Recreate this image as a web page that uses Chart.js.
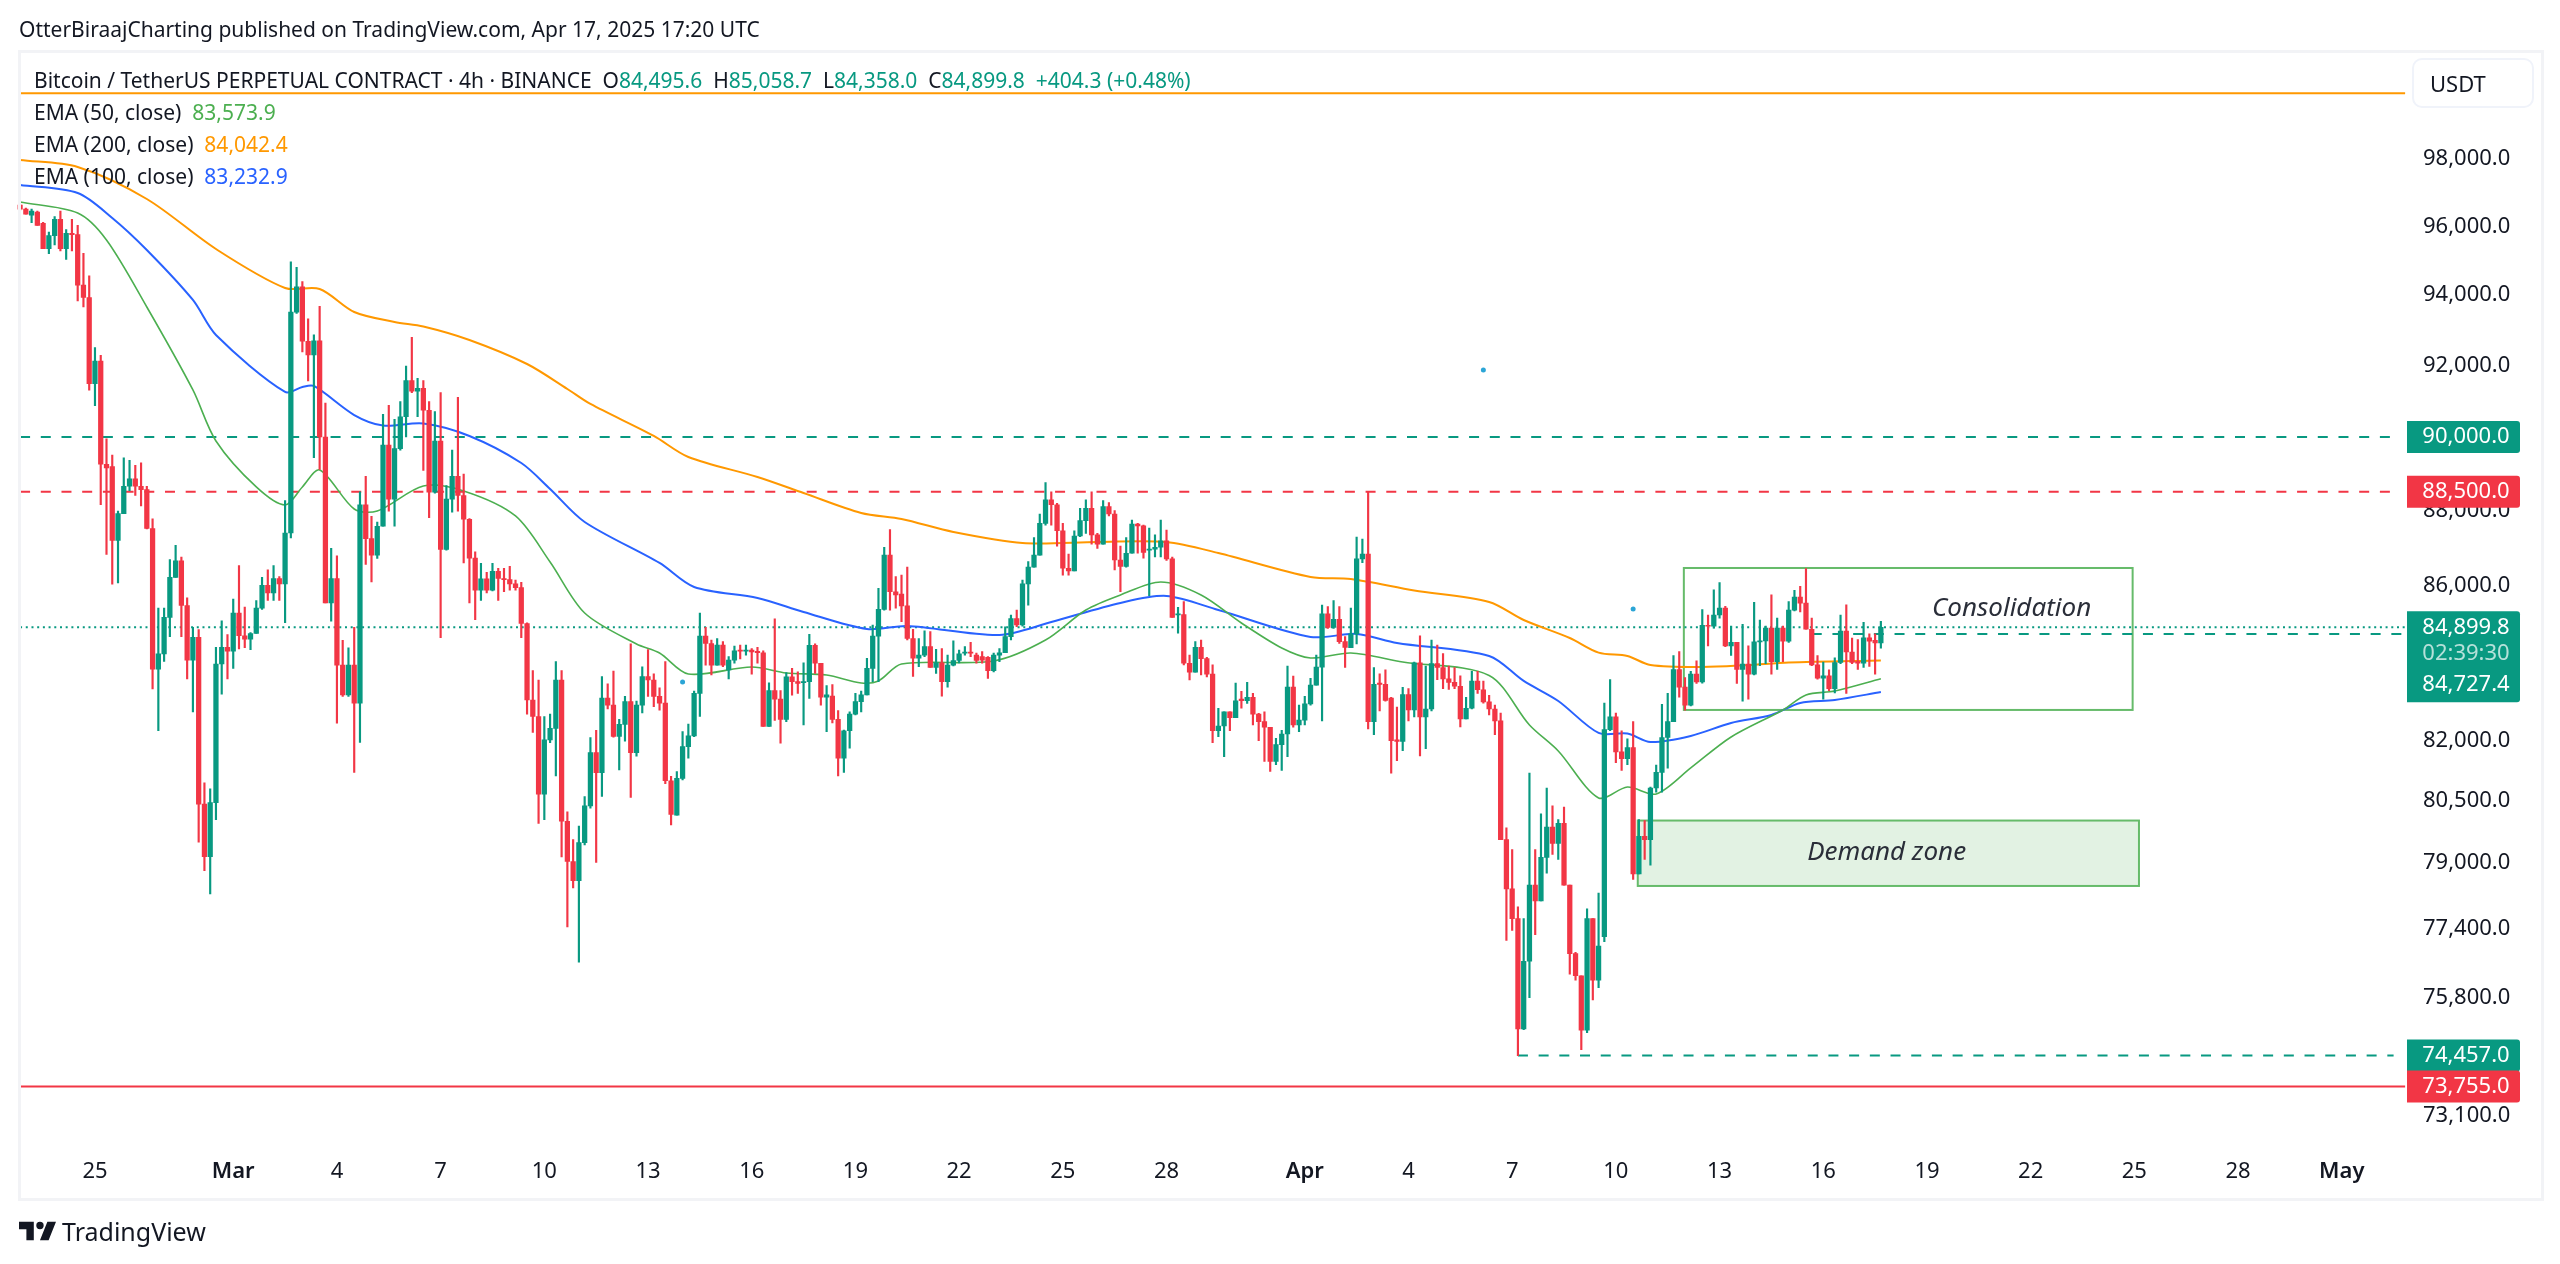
<!DOCTYPE html>
<html>
<head>
<meta charset="utf-8">
<title>BTCUSDT 4h</title>
<script src="https://cdn.jsdelivr.net/npm/chart.js@4/dist/chart.umd.min.js"></script>
<style>
    html, body { margin: 0; padding: 0; background: #fff; }
    body { width: 2560px; height: 1264px; position: relative; overflow: hidden; font-family: 'Noto Sans', sans-serif; color: #131722; }
    #priceChart { position: absolute; left: 0; top: 0; }
    .frame { position: absolute; left: 18px; top: 50px; width: 2520px; height: 1145px; border: 3px solid #f2f3f6; pointer-events: none; }
    .line { position: absolute; white-space: pre; font-size: 21px; line-height: 30px; }
    .up { color: #089981; }
    .usdt { position: absolute; left: 2412px; top: 58px; width: 118px; height: 46px; border: 2px solid #f0f3fa; border-radius: 10px; font-size: 22px; line-height: 46px; text-indent: 16px; }
    .logo { position: absolute; left: 19px; top: 1219px; }
    .brand { position: absolute; left: 62px; top: 1214px; font-size: 25px; line-height: 34px; }
</style>
</head>
<body>
<canvas id="priceChart" width="2560" height="1264"></canvas>
<div class="frame"></div>
<div class="line" style="left:19px;top:14px">OtterBiraajCharting published on TradingView.com, Apr 17, 2025 17:20 UTC</div>
<div class="line" style="left:34px;top:65px">Bitcoin / TetherUS PERPETUAL CONTRACT · 4h · BINANCE  O<span class="up">84,495.6</span>  H<span class="up">85,058.7</span>  L<span class="up">84,358.0</span>  C<span class="up">84,899.8</span>  <span class="up">+404.3 (+0.48%)</span></div>
<div class="line" style="left:34px;top:97px">EMA (50, close)  <span style="color:#4caf50">83,573.9</span></div>
<div class="line" style="left:34px;top:129px">EMA (200, close)  <span style="color:#ff9800">84,042.4</span></div>
<div class="line" style="left:34px;top:161px">EMA (100, close)  <span style="color:#2962ff">83,232.9</span></div>
<div class="usdt">USDT</div>
<svg class="logo" width="37" height="24" viewBox="2 6 30 15"><path fill="#131722" d="M14 6H2v6h6v9h6V6zm12 15h-7l6-15h7l-6 15zm-7-9a3 3 0 1 0 0-6 3 3 0 0 0 0 6z"/></svg>
<div class="brand">TradingView</div>

<script>
// Price axis
const priceMin = 72333;
const priceMax = 101302;
const priceTicks = [98000, 96000, 94000, 92000, 90000, 88000, 86000, 84000, 82000, 80500, 79000, 77400, 75800, 73100];

// Time axis (one slot = 4h, slot 0 is Feb 22 20:00, runs on past the last candle)
const slotCount = 415;
const timeTickSlots = [13, 37, 55, 73, 91, 109, 127, 145, 163, 181, 199, 223, 241, 259, 277, 295, 313, 331, 349, 367, 385, 403];
const timeTickLabels = ['25', 'Mar', '4', '7', '10', '13', '16', '19', '22', '25', '28', 'Apr', '4', '7', '10', '13', '16', '19', '22', '25', '28', 'May'];
const monthLabels = ['Mar', 'Apr', 'May'];

// Candles
const candleOpen = [
    96630,96510,96330,96420,96090,95350,95730,96210,95350,95800,
    95760,94290,93930,91480,92120,89250,89190,87190,87910,88650,
    88850,88650,88560,87510,83820,84210,85160,86210,86650,85470,
    84050,84640,80420,79140,80460,83950,84380,84280,85270,84680,
    84590,84740,85400,86000,85800,86180,86040,87390,93510,94240,
    92680,92290,92690,90000,85540,86180,83920,83160,83920,82950,
    88150,87240,86800,87570,89780,88300,89680,90560,91570,91270,
    91350,90740,88490,89890,86950,88300,88920,88400,87760,86720,
    85870,86170,85870,86370,86180,86150,86040,85940,85000,83030,
    82610,80670,82020,82310,83540,80000,79020,78560,79480,80380,
    81700,81200,83080,82900,82110,82410,82990,81700,82900,83630,
    83540,83120,82950,81000,80150,81060,81850,82120,83200,84670,
    84480,83920,84440,83800,84050,84310,84280,84310,84280,84240,
    82360,83270,83050,82540,83620,83500,83470,83500,84430,83970,
    83100,83130,82540,81560,82250,82670,82990,83160,83840,84670,
    85370,86800,85830,85770,85460,84610,84100,84180,84400,83860,
    83980,83500,83920,84040,84230,84260,84180,84140,84120,83780,
    84180,84240,84660,85130,84960,86040,86480,86800,87650,88280,
    88150,87450,86450,86380,87310,87720,88050,87340,87090,88100,
    87900,86670,86500,86850,87630,87580,86930,86960,87010,87180,
    86700,85220,85230,83970,83740,84380,84090,83690,82250,82370,
    82730,82580,83050,83010,83100,82670,82480,82340,81480,81900,
    82170,83360,82400,82520,82930,83410,83870,85250,84900,85110,
    84530,84370,84730,86700,86830,82480,83460,83430,83080,82020,
    81980,83170,82780,83980,82600,82800,83960,83860,83570,83480,
    83380,82550,82820,83510,83290,82980,82800,82500,79550,78360,
    77650,75070,76640,78450,78070,79120,79860,79460,79950,78450,
    76820,76300,75040,77650,76200,77220,82280,82600,81720,81550,
    81830,78720,79630,79550,80820,81210,82080,82480,83810,83360,
    82900,83690,83490,84950,84930,85220,85400,84420,84510,83810,
    83950,83690,84520,84550,84880,84010,84880,84540,85350,85690,
    85530,84850,83930,83590,83650,83320,83990,84800,84260,84010,
    83970,84630,84560,84495.6
];
const candleHigh = [
    96660,96540,96510,96450,96120,95830,96290,96450,95910,96210,
    96030,95210,94560,92500,92280,89950,89500,87980,89430,89360,
    89220,89290,88650,87770,85400,85400,86680,87060,86750,85670,
    84900,84840,80950,80800,84380,85070,84710,85640,86520,85430,
    84760,85600,86210,86410,86520,86230,88260,94960,94800,94390,
    93320,92860,93680,90940,86980,86780,84560,84370,84900,88500,
    88920,87840,87680,90630,90880,90490,90980,91980,92790,91630,
    91570,90980,90700,91230,88670,89640,91100,88980,87780,86890,
    86580,86340,86580,86450,86450,86500,86140,86080,85020,83780,
    83540,82610,82670,84010,83780,80230,79550,79880,80610,82080,
    82260,83630,83440,83770,82540,83120,84470,83000,83880,84320,
    83700,83340,84010,81110,81230,82230,82420,83260,85270,84900,
    84570,84610,84530,84140,84410,84440,84440,84350,84380,84290,
    83470,85120,83270,83730,83840,83750,83980,84720,84470,83970,
    83400,83420,82760,82270,82730,83200,83260,84100,84960,85920,
    87010,87480,86230,86270,86480,84850,84610,84810,84790,84330,
    84350,84180,84550,84310,84400,84510,84230,84270,84140,84230,
    84350,84910,85220,85350,86140,86630,87270,87900,88750,88500,
    88190,87650,86830,87450,88050,88280,88500,87380,88260,88210,
    87990,87040,87270,87740,87650,87600,87520,87340,87740,87470,
    86750,85420,85570,84180,84530,84570,84120,83930,82820,82730,
    82730,83460,83250,83480,83200,82690,82730,82340,82060,82260,
    83900,83640,82900,83120,83580,84180,85480,85440,85600,85440,
    84660,85400,87280,87230,88500,83860,83700,83800,83100,82850,
    83350,83320,84000,84680,83900,84570,84440,84220,83900,83860,
    83650,83100,83760,83760,83510,83150,82900,82700,79840,79310,
    77930,77650,81190,79310,80180,80820,80380,80040,80350,78450,
    76850,76300,77880,77650,78260,82950,83550,82700,82250,82050,
    82480,80040,80020,80840,81390,82920,83200,84170,84270,83600,
    83760,84030,85360,85220,85880,86070,85450,84930,84510,84980,
    84420,85550,85090,84930,85750,85140,84930,85570,85870,85970,
    86440,85140,84170,84000,83800,84110,85220,85490,84620,84580,
    85030,84730,84730,85058.7
];
const candleLow = [
    96480,96360,96110,96030,95350,95200,95460,95280,95030,95280,
    93830,93660,91300,90870,88150,86820,86030,86060,87910,88530,
    88400,88120,87500,83310,82250,84020,84660,86210,84660,83570,
    82730,79490,78800,78240,80040,83180,83570,83840,84340,84370,
    84320,84740,85370,85600,85600,85600,85020,87260,93470,92380,
    91560,89430,89110,85540,85060,82440,83120,83120,81210,81960,
    86550,86090,86710,87570,87980,87570,89640,90000,91230,90560,
    89080,87800,88460,84630,86930,87950,87980,86590,85540,85100,
    85600,85800,85850,85600,85830,85870,85870,84630,82670,82210,
    79950,80040,81950,81120,79130,77450,78380,76620,79420,80320,
    79000,80610,82800,82090,81270,81990,80590,81610,82700,83120,
    82860,82770,80930,79910,80150,81020,81560,82100,82610,83920,
    83670,83920,83880,83570,83970,84080,84180,83690,83970,82360,
    82360,82510,81940,82480,83150,83200,82400,83070,83710,82900,
    82230,82450,81120,81210,81810,82650,82730,83160,83500,83500,
    85350,85350,85400,85050,84570,83630,83880,84140,83860,83710,
    83130,83360,83900,83980,84180,84140,83970,83970,83580,83750,
    84010,84240,84570,84920,84930,85480,86480,86800,87600,87600,
    87040,86270,86270,86380,87290,87380,87090,86980,87090,87850,
    86410,85830,86480,86850,86850,86720,85730,86750,86750,86660,
    85160,84750,83930,83540,83740,83670,83620,81950,82100,81600,
    82250,82580,82820,82940,82400,82000,81480,81230,81400,81260,
    81600,82340,82230,82400,82900,83410,82500,84870,84870,84480,
    83860,84370,84470,86600,82300,82150,82750,83000,81190,81500,
    81750,82500,82600,81620,81800,82750,83550,83320,83300,83320,
    82350,82550,82800,83200,82950,82650,82150,79550,77130,77370,
    74457,75050,75790,77270,78070,78740,79190,79070,78450,76340,
    76200,74590,74980,75740,76020,77100,82250,81450,81260,81400,
    78590,78720,79070,78930,80720,80720,81310,82480,83100,82770,
    82880,83450,83460,84420,84880,85140,84400,84170,83450,83000,
    83050,83670,83910,83960,83690,83810,84010,84510,85330,85300,
    84850,83910,83560,83050,83270,83210,83960,83200,83960,83810,
    83860,83890,83690,84358
];
const candleClose = [
    96510,96360,96450,96030,95350,95730,96210,95350,95800,95760,
    94290,93930,91480,92120,89250,89150,87190,87910,88650,88850,
    88650,88560,87510,83820,84210,85160,86210,86650,85470,84050,
    84640,80420,79140,80460,83950,84380,84280,85270,84680,84590,
    84740,85400,86000,85800,86180,86040,87390,93510,94240,92680,
    92290,92690,90000,85540,86180,83920,83160,83920,82950,88150,
    87240,86800,87570,89780,88300,89680,90560,91570,91270,91350,
    90740,88490,89890,86950,88300,88920,88400,87760,86720,85870,
    86170,85870,86370,86180,86150,86040,85940,85000,83030,82610,
    80670,82020,82310,83540,80000,79020,78560,79480,80380,81700,
    81200,83080,82900,82110,82410,82990,81700,82900,83630,83540,
    83120,82950,81000,80170,81060,81850,82120,83200,84670,84480,
    83920,84440,83920,84050,84290,84280,84310,84260,84240,82360,
    83270,83050,82540,83620,83500,83450,83500,84430,83970,83100,
    83160,82540,81560,82250,82670,82990,83160,83840,84670,85370,
    86800,85830,85750,85460,84610,84100,84180,84400,83860,83980,
    83500,83920,84040,84210,84260,84230,84040,84050,83780,84180,
    84240,84660,85130,84960,86040,86480,86800,87650,88280,88150,
    87450,86450,86380,87310,87720,88050,87340,87090,88100,87900,
    86670,86500,86850,87630,87580,86870,86960,87010,87180,86700,
    85160,85250,83970,83740,84380,84090,83690,82250,82370,82730,
    82580,83010,83010,83100,82670,82480,82340,81480,81900,82170,
    83360,82400,82520,82930,83410,83870,85250,84900,85110,84530,
    84380,84730,86700,86830,82480,83430,83430,83020,82000,81980,
    83170,82780,83980,82600,82800,83960,83860,83570,83480,83380,
    82550,82820,83510,83290,82980,82800,82500,79550,78360,77650,
    75070,76640,78450,78070,79120,79860,79460,79950,78450,76820,
    76300,75040,77650,76200,77000,82280,82600,81720,81550,81830,
    78720,79630,79550,80820,81210,82080,82480,83810,83360,82900,
    83690,83490,84950,84930,85220,85400,84420,84510,83810,83950,
    83690,84520,84550,84880,84010,84880,84540,85350,85690,85530,
    84850,83930,83590,83650,83320,83990,84800,84260,83990,83970,
    84630,84540,84495.6,84899.8
];

// EMA lines, read at the slots where they bend
const ema200Slots = [0,10,22,34,46,52,58,65,70,78,88,95,99,110,116,128,136,146,153,162,174,187,199,208,224,231,242,255,261,269,274,279,283,292,300,307,323];
const ema200Values = [97973,97764,96810,95337,94205,94176,93514,93228,93100,92716,92036,91334,90915,90030,89450,88904,88468,87928,87766,87418,87123,87150,87150,86856,86220,86167,85865,85562,85091,84623,84245,84157,83926,83875,83926,83990,84042.4];
const ema100Slots = [0,10,16,22,30,34,46,49,51,58,63,70,78,87,92,98,111,117,128,136,147,154,170,179,191,199,208,224,232,239,255,261,267,274,279,283,290,297,304,309,315,323];
const ema100Values = [97227,96988,96248,95308,93859,92858,91250,91390,91418,90608,90317,90373,90028,89285,88577,87686,86591,85956,85667,85300,84857,84936,84702,85039,85536,85720,85352,84650,84728,84494,84157,83516,83005,82196,82180,81968,82120,82447,82650,82955,83030,83232.9];
const ema50Slots = [0,10,15,22,30,34,41,46,49,52,58,62,70,77,86,92,98,107,111,116,127,133,140,146,149,153,169,178,185,191,198,205,212,219,224,231,240,255,262,267,274,279,284,290,297,306,310,315,323];
const ema50Values = [96721,96395,95601,93658,91306,89890,88632,88144,88632,89094,88035,87981,88658,88523,87847,86617,85274,84468,84235,83695,83875,83720,83669,83464,83516,83952,84029,84571,85352,85746,86088,85746,85013,84364,84106,84235,84002,83657,82397,81743,80575,80845,80672,81319,82094,82777,83158,83260,83573.9];

// Horizontal levels: price, first slot, last slot
const levelPrices = [100000, 90000, 88500, 84899.8, 84727.4, 74457, 73755];
const levelStart = [0, 0, 0, 0, 311, 260, 0];
const levelEnd = [414, 413, 413, 414, 414, 412, 414];

// Small marker dots
const dotSlots = [115, 254, 280];
const dotPrices = [83490, 91870, 85380];

// Zones: top price, bottom price, first slot, last slot
const consolidationZone = [86458, 82777, 288.8, 366.7];
const demandZone = [80018, 78430, 280.8, 367.8];

const UP = '#089981';
const DOWN = '#F23645';
const FONT = "'Noto Sans', sans-serif";

const categories = [];
for (let i = 0; i < slotCount; i++) categories.push('slot ' + i);

function pairs(a, b) {
    return a.map((v, i) => [v, b[i]]);
}

function candleColors() {
    return candleOpen.map((o, i) => (candleClose[i] >= o ? UP : DOWN));
}

function emaDataset(slots, values, color, width) {
    return {
        type: 'line',
        data: slots.map((s, i) => ({ x: categories[s], y: values[i] })),
        borderColor: color,
        borderWidth: width,
        pointRadius: 0,
        tension: 0.3,
        order: 5
    };
}

function levelDataset(i) {
    const styles = [
        { color: '#FF9800', dash: [], width: 2 },
        { color: UP, dash: [10, 10.7], width: 2 },
        { color: DOWN, dash: [10, 10.7], width: 2 },
        { color: UP, dash: [2, 3.7], width: 2 },
        { color: UP, dash: [10, 10.7], width: 2 },
        { color: UP, dash: [10, 10.7], width: 2 },
        { color: DOWN, dash: [], width: 2 }
    ];
    return {
        type: 'line',
        data: [
            { x: categories[levelStart[i]], y: levelPrices[i] },
            { x: categories[levelEnd[i]], y: levelPrices[i] }
        ],
        borderColor: styles[i].color,
        borderWidth: styles[i].width,
        borderDash: styles[i].dash,
        pointRadius: 0,
        order: 6
    };
}

// Zones, their captions and the price tags on the axis
const overlayPlugin = {
    id: 'overlay',
    beforeDatasetsDraw(chart) {
        const { ctx, scales } = chart;
        const drawZone = (zone, fill) => {
            const x1 = scales.x.getPixelForValue(zone[2]);
            const x2 = scales.x.getPixelForValue(zone[3]);
            const y1 = scales.y.getPixelForValue(zone[0]);
            const y2 = scales.y.getPixelForValue(zone[1]);
            ctx.save();
            ctx.fillStyle = fill;
            ctx.fillRect(x1, y1, x2 - x1, y2 - y1);
            ctx.strokeStyle = '#66bb6a';
            ctx.lineWidth = 2;
            ctx.strokeRect(x1, y1, x2 - x1, y2 - y1);
            ctx.restore();
        };
        drawZone(consolidationZone, 'rgba(255,255,255,0)');
        drawZone(demandZone, 'rgba(76,175,80,0.16)');
    },
    afterDatasetsDraw(chart) {
        const { ctx, scales } = chart;
        ctx.save();
        ctx.font = 'italic 26px ' + FONT;
        ctx.fillStyle = '#2a2e39';
        ctx.textAlign = 'center';
        ctx.textBaseline = 'middle';
        ctx.fillText('Consolidation', scales.x.getPixelForValue(345.7), scales.y.getPixelForValue(85380));
        ctx.fillText('Demand zone', scales.x.getPixelForValue(324), scales.y.getPixelForValue(79230));
        ctx.restore();
    },
    afterDraw(chart) {
        const { ctx, scales } = chart;
        const tagLeft = 2407, tagWidth = 113;
        const fmt = v => v.toLocaleString('en-US', { minimumFractionDigits: 1, maximumFractionDigits: 1 });
        const box = (top, h, color) => {
            ctx.fillStyle = color;
            ctx.beginPath();
            ctx.roundRect(tagLeft, top, tagWidth, h, [0, 3, 3, 0]);
            ctx.fill();
        };
        const text = (str, y, color) => {
            ctx.fillStyle = color;
            ctx.fillText(str, tagLeft + 59, y);
        };
        ctx.save();
        ctx.font = '22px ' + FONT;
        ctx.textAlign = 'center';
        ctx.textBaseline = 'middle';
        [[levelPrices[1], UP], [levelPrices[2], DOWN], [levelPrices[5], UP], [levelPrices[6], DOWN]].forEach(([p, c]) => {
            const y = scales.y.getPixelForValue(p);
            box(y - 16, 32, c);
            text(fmt(p), y, '#fff');
        });
        const last = scales.y.getPixelForValue(levelPrices[3]);
        box(last - 16, 91, UP);
        text(fmt(levelPrices[3]), last, '#fff');
        text('02:39:30', last + 26, 'rgba(255,255,255,0.7)');
        text(fmt(levelPrices[4]), last + 57, '#fff');
        ctx.restore();
    }
};

document.addEventListener('DOMContentLoaded', () => {
    const ctx = document.getElementById('priceChart').getContext('2d');
    const colors = candleColors();
    new Chart(ctx, {
        type: 'bar',
        data: {
            labels: categories,
            datasets: [
                // bodies first so they sit on top of the wicks
                { data: pairs(candleOpen, candleClose), backgroundColor: colors, barThickness: 4.6, grouped: false, order: 1 },
                { data: pairs(candleLow, candleHigh), backgroundColor: colors, barThickness: 1.5, grouped: false, order: 2 },
                emaDataset(ema50Slots, ema50Values, '#4CAF50', 1.6),
                emaDataset(ema100Slots, ema100Values, '#2962FF', 2),
                emaDataset(ema200Slots, ema200Values, '#FF9800', 2),
                ...levelPrices.map((p, i) => levelDataset(i)),
                {
                    type: 'line',
                    data: dotSlots.map((s, i) => ({ x: categories[s], y: dotPrices[i] })),
                    showLine: false,
                    pointRadius: 2.5,
                    pointBackgroundColor: '#2ba5d6',
                    pointBorderWidth: 0,
                    order: 0
                }
            ]
        },
        options: {
            responsive: false,
            animation: false,
            devicePixelRatio: 1,
            events: [],
            layout: { padding: { left: 17.2, right: 20, top: 51, bottom: 67 } },
            plugins: { legend: { display: false }, tooltip: { enabled: false } },
            scales: {
                x: {
                    type: 'category',
                    offset: true,
                    grid: { display: false, drawTicks: false },
                    border: { display: false },
                    afterBuildTicks: scale => { scale.ticks = timeTickSlots.map(v => ({ value: v })); },
                    afterFit: scale => { scale.height = 47; },
                    ticks: {
                        autoSkip: false,
                        maxRotation: 0,
                        padding: 9,
                        color: '#131722',
                        callback: v => timeTickLabels[timeTickSlots.indexOf(v)],
                        font: c => ({
                            family: FONT,
                            size: 22,
                            weight: c.tick && monthLabels.includes(timeTickLabels[timeTickSlots.indexOf(c.tick.value)]) ? '600' : '400'
                        })
                    }
                },
                y: {
                    type: 'logarithmic',
                    position: 'right',
                    min: priceMin,
                    max: priceMax,
                    grid: { display: false, drawTicks: false },
                    border: { display: false },
                    afterBuildTicks: scale => { scale.ticks = priceTicks.map(v => ({ value: v })); },
                    afterFit: scale => { scale.width = 132; },
                    ticks: {
                        autoSkip: false,
                        padding: 15,
                        color: '#131722',
                        font: { family: FONT, size: 22 },
                        callback: v => v.toLocaleString('en-US', { minimumFractionDigits: 1 })
                    }
                }
            }
        },
        plugins: [overlayPlugin]
    });
});
</script>
</body>
</html>
